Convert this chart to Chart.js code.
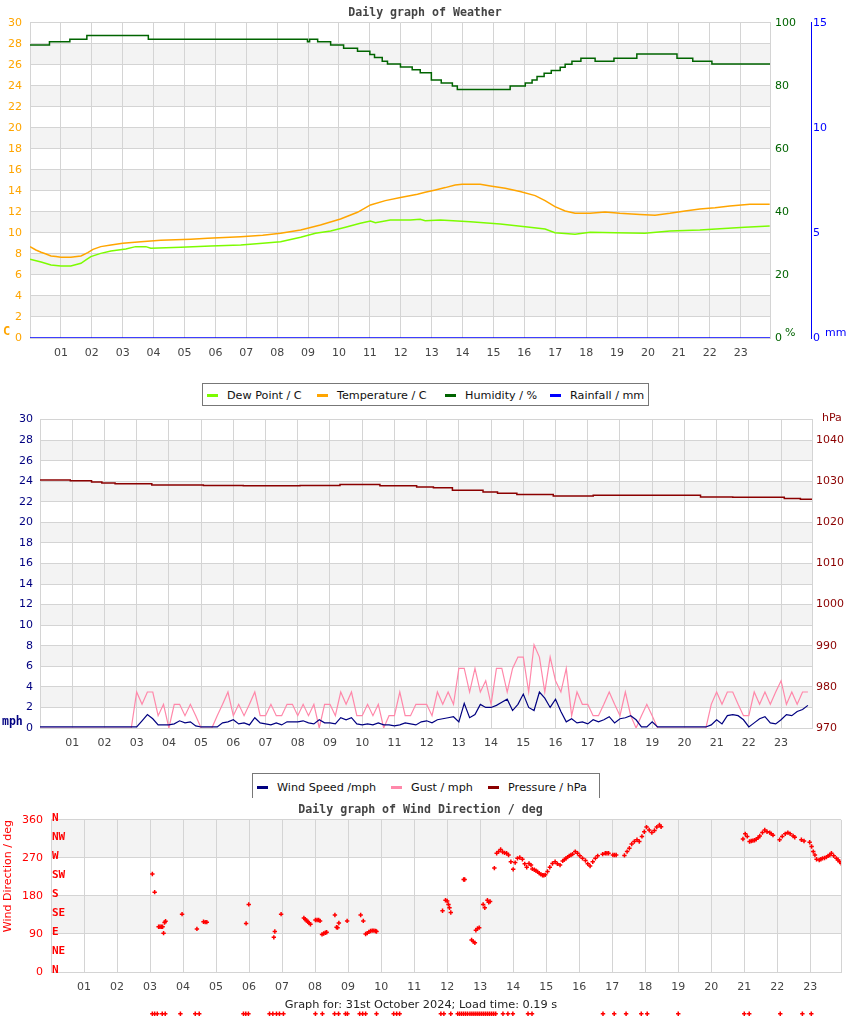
<!DOCTYPE html>
<html>
<head>
<meta charset="utf-8">
<title>Daily graph of Weather</title>
<script src="https://cdn.jsdelivr.net/npm/chart.js@4.4.1/dist/chart.umd.min.js"></script>
<style>
  body { margin: 0; background: #fff; font-family: 'DejaVu Sans', sans-serif; }
  #page { position: relative; width: 850px; height: 1017px; overflow: hidden; }
  canvas { position: absolute; left: 0; }
  .legend { position: absolute; border: 1px solid #777; background: #fff; font-size: 11.2px; color: #111; z-index: 2; }
  .legend span { position: absolute; top: 0; white-space: nowrap; }
  .legend i { display: inline-block; width: 11px; height: 3px; vertical-align: middle; margin-right: 9px; position: relative; top: -1px; }
  #footer { position: absolute; top: 998px; left: 0; width: 842px; text-align: center; font-size: 11.3px; color: #222; z-index: 2; }
</style>
</head>
<body>
<div id="page">
  <canvas id="weatherChart" width="850" height="368" style="top:0"></canvas>
  <div class="legend" style="left:202px; top:383px; width:445px; height:21px; line-height:23px;">
    <span style="left:4px"><i style="background:#7cfc00"></i>Dew Point / C</span>
    <span style="left:114px"><i style="background:#ffa500"></i>Temperature / C</span>
    <span style="left:242px"><i style="background:#006400"></i>Humidity / %</span>
    <span style="left:347px"><i style="background:#0000ff"></i>Rainfall / mm</span>
  </div>
  <canvas id="windChart" width="850" height="352" style="top:406px"></canvas>
  <div class="legend" style="left:252px; top:773px; width:346px; height:24px; line-height:28px; border-bottom:none;">
    <span style="left:4px"><i style="background:#000080"></i>Wind Speed /mph</span>
    <span style="left:138px"><i style="background:#ff88aa"></i>Gust / mph</span>
    <span style="left:235px"><i style="background:#8b0000"></i>Pressure / hPa</span>
  </div>
  <canvas id="dirChart" width="850" height="220" style="top:797px"></canvas>
  <div id="footer">Graph for: 31st October 2024; Load time: 0.19 s</div>
</div>
<script>
// x axis: hours of the day
const hourTicks = [1, 2, 3, 4, 5, 6, 7, 8, 9, 10, 11, 12, 13, 14, 15, 16, 17, 18, 19, 20, 21, 22, 23];

// --- Weather graph (hours / values) ---
const tempHours = [0, 0.19, 0.36, 0.52, 0.68, 0.84, 1.0, 1.32, 1.65, 1.87, 2.04, 2.29, 2.62, 3.0, 3.59, 4.23, 5.2, 5.75, 6.82, 7.53,
  8.11, 8.76, 9.4, 10.05, 10.6, 11.02, 11.5, 11.99, 12.54, 12.79, 13.12, 13.44, 13.76, 13.99, 14.57, 14.9, 15.38, 15.86, 16.35, 16.67,
  16.99, 17.32, 17.64, 18.13, 18.61, 19.09, 19.74, 20.23, 20.71, 21.2, 21.68, 22.17, 22.65, 23.3, 23.94];
const tempValues = [8.7, 8.38, 8.16, 8.0, 7.81, 7.75, 7.68, 7.68, 7.81, 8.13, 8.44, 8.7, 8.86, 9.02, 9.17, 9.3, 9.4, 9.49, 9.65, 9.78,
  9.97, 10.29, 10.76, 11.33, 11.97, 12.67, 13.08, 13.37, 13.68, 13.87, 14.1, 14.32, 14.57, 14.63, 14.63, 14.48, 14.25, 13.94, 13.56, 13.08,
  12.51, 12.1, 11.87, 11.87, 12.0, 11.87, 11.75, 11.68, 11.87, 12.1, 12.29, 12.41, 12.57, 12.73, 12.73];

const dewHours = [0, 0.36, 0.68, 1.0, 1.32, 1.65, 1.81, 1.97, 2.29, 2.62, 3.1, 3.42, 3.75, 3.91, 4.88, 5.85, 6.82, 7.53, 8.11, 8.76,
  9.24, 9.73, 10.21, 10.69, 11.02, 11.18, 11.66, 12.31, 12.63, 12.79, 13.28, 14.25, 15.22, 16.03, 16.67, 16.99, 17.64, 18.13, 18.93, 19.9,
  20.71, 21.68, 22.33, 23.13, 23.94];
const dewValues = [7.49, 7.24, 6.95, 6.86, 6.86, 7.11, 7.43, 7.75, 8.06, 8.29, 8.48, 8.7, 8.7, 8.54, 8.63, 8.76, 8.86, 9.02, 9.17, 9.59,
  9.97, 10.19, 10.54, 10.92, 11.14, 10.98, 11.24, 11.24, 11.3, 11.17, 11.24, 11.08, 10.86, 10.6, 10.38, 10.03, 9.87, 10.06, 10.03, 9.97,
  10.19, 10.29, 10.41, 10.54, 10.67];

const humHours = [0, 0.63, 1.29, 1.84, 3.83, 8.98, 9.05, 9.31, 9.73, 10.15, 10.6, 11.0, 11.15, 11.4, 11.57, 11.99, 12.37, 12.63, 12.99, 13.31,
  13.67, 13.83, 15.54, 16.03, 16.25, 16.41, 16.64, 16.87, 17.16, 17.32, 17.54, 17.83, 18.29, 18.9, 19.64, 20.94, 21.45, 22.07, 23.95];
const humValues = [93.0, 94.0, 94.8, 96.0, 94.8, 94.0, 94.8, 94.0, 93.0, 92.0, 91.0, 90.0, 89.0, 87.8, 87.0, 86.0, 85.1, 84.2, 81.9, 80.9,
  80.0, 78.9, 80.0, 80.9, 81.9, 83.0, 84.0, 84.9, 85.9, 86.9, 87.8, 88.8, 87.8, 88.8, 90.1, 88.8, 87.8, 87.0, 87.0];

const rainHours = [0, 23.95];
const rainValues = [0, 0];

// --- Wind / pressure graph ---
const windSampleMinutes = 10;
const windSpeed = [
  0.1, 0.1, 0.1, 0.1, 0.1, 0.1,   0.1, 0.1, 0.1, 0.1, 0.1, 0.1,   0.1, 0.1, 0.1, 0.1, 0.1, 0.1,
  0.1, 0.7, 1.3, 0.9, 0.3, 0.3,   0.3, 0.4, 0.7, 0.5, 0.6, 0.2,   0.1, 0.1, 0.1, 0.1, 0.5, 0.6,
  0.8, 0.4, 0.5, 0.3, 1.0, 0.5,   0.4, 0.3, 0.5, 0.3, 0.6, 0.6,   0.6, 0.7, 0.5, 0.4, 0.8, 0.5,
  0.5, 0.4, 1.0, 0.8, 1.0, 0.4,   0.3, 0.4, 0.3, 0.5, 0.3, 0.3,   0.2, 0.3, 0.5, 0.4, 0.3, 0.6,
  0.7, 0.5, 0.8, 0.9, 1.0, 1.1,   0.6, 2.4, 1.0, 1.3, 2.3, 2.0,   2.0, 2.2, 2.5, 2.8, 1.7, 2.3,
  3.3, 2.0, 1.7, 3.5, 2.9, 2.0,   2.8, 1.6, 0.6, 0.9, 0.5, 0.6,   0.4, 0.8, 0.6, 0.8, 1.1, 0.5,
  0.9, 1.0, 1.2, 0.8, 0.1, 0.1,   0.6, 0.1, 0.1, 0.1, 0.1, 0.1,   0.1, 0.1, 0.1, 0.1, 0.1, 0.3,
  0.8, 0.4, 1.2, 1.3, 1.2, 0.8,   0.1, 0.5, 0.9, 1.1, 0.5, 0.4,   0.8, 1.3, 1.2, 1.6, 1.8, 2.2];
const windGust = [
  0, 0, 0, 0, 0, 0,               0, 0, 0, 0, 0, 0,               0, 0, 0, 0, 0, 0,
  3.5, 2.3, 3.5, 3.5, 1.2, 2.3,   0, 2.3, 2.3, 1.2, 2.3, 1.2,     0, 0, 0, 1.2, 2.3, 3.5,
  1.2, 2.3, 1.2, 2.3, 3.5, 1.2,   1.2, 2.3, 1.2, 1.2, 2.3, 2.3,   1.2, 2.3, 1.2, 2.3, 0, 2.3,
  2.3, 1.2, 3.5, 2.3, 3.5, 1.2,   1.2, 2.3, 1.2, 2.3, 0, 1.2,     1.2, 3.5, 1.2, 1.2, 2.3, 2.3,
  2.3, 1.2, 3.5, 2.3, 3.5, 2.3,   5.8, 5.8, 3.5, 5.8, 3.5, 4.6,   2.3, 5.8, 5.8, 3.5, 5.8, 6.9,
  6.9, 3.5, 8.1, 6.9, 3.5, 6.9,   4.6, 3.5, 5.8, 1.2, 3.5, 2.3,   2.3, 1.2, 1.2, 2.3, 3.5, 2.3,
  1.2, 3.5, 1.2, 0, 1.2, 2.3,     1.2, 0, 0, 0, 0, 0,             0, 0, 0, 0, 0, 2.3,
  3.5, 2.3, 3.5, 3.5, 2.3, 1.2,   1.2, 3.5, 2.3, 3.5, 2.3, 3.5,   4.6, 2.3, 3.5, 2.3, 3.5, 3.5];

const pressureHours = [0, 0.94, 1.6, 1.92, 2.33, 3.47, 5.07, 6.31, 8.07, 9.31, 10.55, 11.69, 12.21, 12.8, 13.75, 14.2, 14.8, 15.93,
  17.17, 20.5, 21.5, 23.1, 23.6, 23.96];
const pressureValues = [1030.3, 1030.1, 1029.8, 1029.6, 1029.4, 1029.1, 1029.0, 1028.9, 1029.0, 1029.2, 1028.9, 1028.6, 1028.4, 1027.8,
  1027.4, 1027.1, 1026.8, 1026.4, 1026.6, 1026.2, 1026.1, 1025.8, 1025.6, 1025.6];
const pressureTicks = [970, 980, 990, 1000, 1010, 1020, 1030, 1040];

// --- Wind direction graph: [hour, degrees] ---
const windDirReadings = [
  [3.07, 232], [3.14, 189], [3.26, 107], [3.3, 107], [3.34, 107], [3.38, 107], [3.41, 92], [3.44, 117], [3.47, 120],
  [3.97, 137], [4.42, 102], [4.62, 119], [4.67, 118], [4.72, 118], [5.91, 115], [5.99, 160], [6.75, 82], [6.78, 96], [6.97, 137],
  [7.66, 128], [7.7, 125], [7.74, 122], [7.78, 119], [7.82, 116], [7.86, 113], [8.01, 123], [8.06, 123], [8.11, 123], [8.15, 121],
  [8.21, 89], [8.26, 91], [8.31, 93], [8.35, 94], [8.6, 135], [8.65, 106], [8.68, 105], [8.72, 116], [8.97, 121],
  [9.38, 135], [9.46, 121], [9.53, 90], [9.58, 92], [9.63, 95], [9.68, 97], [9.73, 98], [9.78, 98], [9.83, 97], [9.86, 96],
  [11.86, 145], [11.95, 170], [12.0, 168], [12.04, 160], [12.07, 152], [12.11, 141], [12.5, 219], [12.53, 219],
  [12.74, 76], [12.79, 72], [12.84, 69], [12.87, 99], [12.92, 103], [12.97, 105], [13.09, 160], [13.14, 152],
  [13.22, 170], [13.26, 165], [13.3, 167], [13.43, 246], [13.5, 281], [13.56, 285], [13.62, 290], [13.68, 284], [13.74, 282],
  [13.8, 281], [13.86, 277], [13.93, 261], [14.0, 243], [14.06, 259], [14.13, 269], [14.2, 271], [14.28, 267], [14.35, 256],
  [14.41, 248], [14.48, 257], [14.54, 253], [14.58, 244], [14.64, 242], [14.69, 240], [14.74, 237], [14.79, 234], [14.84, 231],
  [14.89, 229], [14.93, 229], [14.97, 230], [15.04, 238], [15.11, 248], [15.19, 257], [15.27, 261], [15.34, 256], [15.42, 253],
  [15.5, 263], [15.55, 266], [15.6, 269], [15.65, 272], [15.7, 275], [15.75, 277], [15.8, 279], [15.88, 285], [15.95, 281],
  [16.02, 275], [16.1, 269], [16.19, 264], [16.26, 256], [16.33, 251], [16.41, 261], [16.49, 269], [16.56, 275],
  [16.71, 279], [16.79, 281], [16.84, 281], [16.89, 281], [17.02, 277], [17.07, 277], [17.12, 277], [17.37, 276], [17.45, 285],
  [17.52, 293], [17.59, 303], [17.67, 309], [17.75, 313], [17.82, 309], [17.9, 321], [17.97, 332], [18.04, 343], [18.12, 336],
  [18.2, 330], [18.28, 335], [18.35, 343], [18.43, 348], [18.48, 344],
  [20.96, 315], [21.03, 327], [21.09, 321], [21.16, 309], [21.21, 310], [21.26, 311], [21.31, 312], [21.36, 314], [21.42, 318],
  [21.47, 322], [21.55, 330], [21.62, 336], [21.69, 332], [21.77, 330], [21.82, 327], [21.87, 324], [22.07, 313], [22.15, 321],
  [22.24, 327], [22.32, 330], [22.39, 327], [22.48, 322], [22.53, 319], [22.73, 313], [22.81, 310], [22.98, 307], [23.04, 297],
  [23.09, 285], [23.14, 277], [23.19, 267], [23.27, 265], [23.32, 267], [23.37, 269], [23.43, 270], [23.49, 272], [23.54, 275],
  [23.59, 277], [23.64, 281], [23.71, 275], [23.79, 269], [23.84, 265], [23.89, 261], [23.94, 257]];
// readings with no direction (calm), shown in the strip under the graph
const calmHours = [3.07, 3.14, 3.22, 3.37, 3.46, 3.92, 4.37, 4.49, 5.83, 5.9, 5.98, 6.62, 6.72, 6.83, 6.92, 7.04, 8.01, 8.22,
  8.59, 8.71, 8.92, 8.98, 9.35, 9.44, 9.53, 9.86, 10.38, 10.47, 10.56, 11.81, 11.9, 12.11, 12.32, 12.38, 12.44, 12.5, 12.56,
  12.62, 12.69, 12.75, 12.81, 12.87, 12.93, 12.99, 13.05, 13.11, 13.17, 13.23, 13.29, 13.35, 13.41, 13.47, 13.69, 13.84, 13.99,
  14.45, 14.57, 16.72, 17.06, 17.42, 17.88, 18.06, 19.0, 21.0, 21.15, 22.09, 22.76, 23.03];
const calmLevel = -99;
const compassPoints = ['N', 'NE', 'E', 'SE', 'S', 'SW', 'W', 'NW', 'N'];

const GRID = '#d4d4d4';
const BAND = '#f3f3f3';
Chart.defaults.font.family = "'DejaVu Sans', sans-serif";
Chart.defaults.font.size = 11;
Chart.defaults.animation = false;

function pairs(xs, ys) { return xs.map((x, i) => ({ x: x, y: ys[i] })); }

// alternate grey bands behind the plot
const bandPlugin = {
  id: 'bands',
  beforeDraw(chart, args, opts) {
    const { ctx, chartArea } = chart;
    const sc = chart.scales[opts.axis];
    ctx.save();
    ctx.fillStyle = BAND;
    opts.ranges.forEach(([a, b]) => {
      const top = sc.getPixelForValue(b), bot = sc.getPixelForValue(a);
      ctx.fillRect(chartArea.left, top, chartArea.right - chartArea.left, bot - top);
    });
    ctx.restore();
  }
};

// small unit labels next to the axes
const unitPlugin = {
  id: 'units',
  afterDraw(chart, args, opts) {
    const ctx = chart.ctx;
    (opts.items || []).forEach(it => {
      ctx.save();
      ctx.font = it.font;
      ctx.fillStyle = it.color;
      ctx.textBaseline = 'middle';
      ctx.textAlign = 'left';
      ctx.fillText(it.text, it.x, it.y);
      ctx.restore();
    });
  }
};

// compass names inside the wind direction plot, and the calm strip below it
const compassPlugin = {
  id: 'compass',
  afterDatasetsDraw(chart) {
    const { ctx, chartArea } = chart;
    const sc = chart.scales.y;
    ctx.save();
    ctx.font = "bold 11px 'DejaVu Sans Mono', monospace";
    ctx.fillStyle = '#ff0000';
    ctx.textBaseline = 'middle';
    compassPoints.forEach((p, i) => {
      ctx.fillText(p, chartArea.left + 1, sc.getPixelForValue(i * 45) - 2);
    });
    ctx.restore();
    // points of the calm dataset lie outside the plot area: draw them without the area test
    const whole = { left: 0, top: 0, right: chart.width, bottom: chart.height };
    chart.getDatasetMeta(1).data.forEach(pt => pt.draw(ctx, whole));
  }
};

const grayBands = [[2, 4], [6, 8], [10, 12], [14, 16], [18, 20], [22, 24], [26, 28]];

function hourScale(max, height) {
  return {
    type: 'linear', min: 0, max: max,
    afterBuildTicks: ax => { ax.ticks = hourTicks.concat([max]).map(v => ({ value: v })); },
    afterFit: ax => { ax.height = height; },
    grid: { color: GRID, drawTicks: false },
    border: { color: GRID },
    ticks: {
      color: '#444', padding: 9, autoSkip: false, maxRotation: 0,
      callback: v => Number.isInteger(v) ? String(v).padStart(2, '0') : ''
    }
  };
}

function lineSet(label, data, color, axis, extra) {
  return Object.assign({
    label: label, data: data, borderColor: color, backgroundColor: color, yAxisID: axis,
    borderWidth: 1.5, pointRadius: 0, tension: 0, fill: false
  }, extra || {});
}

const titleFont = { family: "'DejaVu Sans Mono', monospace", weight: 'bold', size: 11.6 };

// ---------- Chart 1: weather ----------
new Chart(document.getElementById('weatherChart'), {
  type: 'line',
  data: {
    datasets: [
      lineSet('Rainfall / mm', pairs(rainHours, rainValues), '#0000ff', 'yRain'),
      lineSet('Dew Point / C', pairs(dewHours, dewValues), '#7cfc00', 'y'),
      lineSet('Temperature / C', pairs(tempHours, tempValues), '#ffa500', 'y'),
      lineSet('Humidity / %', pairs(humHours, humValues), '#006400', 'yHum', { stepped: true })
    ]
  },
  options: {
    responsive: false, devicePixelRatio: 1,
    layout: { padding: 0 },
    plugins: {
      legend: { display: false }, tooltip: { enabled: false },
      title: { display: true, text: 'Daily graph of Weather', color: '#444', font: titleFont, padding: { top: 6, bottom: 3 } },
      bands: { axis: 'y', ranges: grayBands },
      units: { items: [
        { text: 'C', x: 3, y: 332, color: '#ffa500', font: "bold 12px 'DejaVu Sans Mono', monospace" },
        { text: '%', x: 785, y: 333, color: '#006400', font: "11px 'DejaVu Sans', sans-serif" },
        { text: 'mm', x: 825, y: 333, color: '#0000ff', font: "11px 'DejaVu Sans', sans-serif" }
      ] }
    },
    scales: {
      x: hourScale(23.95, 30),
      y: {
        position: 'left', min: 0, max: 30,
        afterFit: ax => { ax.width = 30; },
        ticks: { stepSize: 2, color: '#ffa500', padding: 8 },
        grid: { color: GRID, drawTicks: false }, border: { color: GRID }
      },
      yHum: {
        position: 'right', min: 0, max: 100,
        afterFit: ax => { ax.width = 41; },
        ticks: { stepSize: 20, color: '#006400', padding: 5 },
        grid: { display: false, drawTicks: false }, border: { color: GRID }
      },
      yRain: {
        position: 'right', min: 0, max: 15,
        afterFit: ax => { ax.width = 39; },
        ticks: { stepSize: 5, color: '#0000ff', padding: 2 },
        grid: { display: false, drawTicks: false }, border: { color: '#0000ff' }
      }
    }
  },
  plugins: [bandPlugin, unitPlugin]
});

// ---------- Chart 2: wind speed, gust, pressure ----------
const windHours = windSpeed.map((v, i) => i * windSampleMinutes / 60);
new Chart(document.getElementById('windChart'), {
  type: 'line',
  data: {
    datasets: [
      lineSet('Wind Speed /mph', pairs(windHours, windSpeed), '#000080', 'y', { borderWidth: 1.2 }),
      lineSet('Gust / mph', pairs(windHours, windGust), '#ff88aa', 'y', { borderWidth: 1.2 }),
      lineSet('Pressure / hPa', pairs(pressureHours, pressureValues), '#8b0000', 'yP', { stepped: true })
    ]
  },
  options: {
    responsive: false, devicePixelRatio: 1,
    layout: { padding: { top: 8 } },
    plugins: {
      legend: { display: false }, tooltip: { enabled: false },
      bands: { axis: 'y', ranges: grayBands },
      units: { items: [
        { text: 'mph', x: 2, y: 316, color: '#000080', font: "bold 11.5px 'DejaVu Sans Mono', monospace" },
        { text: 'hPa', x: 822, y: 12, color: '#8b0000', font: "11px 'DejaVu Sans', sans-serif" }
      ] }
    },
    scales: {
      x: hourScale(23.96, 30),
      y: {
        position: 'left', min: 0, max: 30,
        afterFit: ax => { ax.width = 40; },
        ticks: { stepSize: 2, color: '#000080', padding: 7 },
        grid: { color: GRID, drawTicks: false }, border: { color: GRID }
      },
      yP: {
        position: 'right', min: 970, max: 1045,
        afterBuildTicks: ax => { ax.ticks = pressureTicks.map(v => ({ value: v })); },
        afterFit: ax => { ax.width = 38; },
        ticks: { color: '#8b0000', padding: 4, callback: v => String(v) },
        grid: { display: false, drawTicks: false }, border: { color: GRID }
      }
    }
  },
  plugins: [bandPlugin, unitPlugin]
});

// ---------- Chart 3: wind direction ----------
new Chart(document.getElementById('dirChart'), {
  type: 'scatter',
  data: {
    datasets: [
      {
        label: 'Wind Direction / deg',
        data: windDirReadings.map(r => ({ x: r[0], y: r[1] })),
        pointStyle: 'cross', pointRadius: 2.2, borderWidth: 1.5, borderColor: '#ff0000', backgroundColor: '#ff0000'
      },
      {
        label: 'Calm',
        data: calmHours.map(h => ({ x: h, y: calmLevel })),
        pointStyle: 'cross', pointRadius: 2.2, borderWidth: 1.5, borderColor: '#ff0000', backgroundColor: '#ff0000',
        clip: false
      }
    ]
  },
  options: {
    responsive: false, devicePixelRatio: 1,
    layout: { padding: { right: 9 } },
    plugins: {
      legend: { display: false }, tooltip: { enabled: false },
      title: { display: true, text: 'Daily graph of Wind Direction / deg', color: '#444', font: titleFont, padding: { top: 6, bottom: 3 } },
      bands: { axis: 'y', ranges: [[90, 180], [270, 360]] }
    },
    scales: {
      x: hourScale(23.93, 45),
      y: {
        position: 'left', min: 0, max: 360,
        afterFit: ax => { ax.width = 51; },
        ticks: { stepSize: 90, color: '#ff0000', padding: 8 },
        title: { display: true, text: 'Wind Direction / deg', color: '#ff0000', align: 'end', font: { size: 11 }, padding: { top: 2, bottom: 0 } },
        grid: { color: GRID, drawTicks: false }, border: { color: GRID }
      }
    }
  },
  plugins: [bandPlugin, compassPlugin]
});
</script>
</body>
</html>
